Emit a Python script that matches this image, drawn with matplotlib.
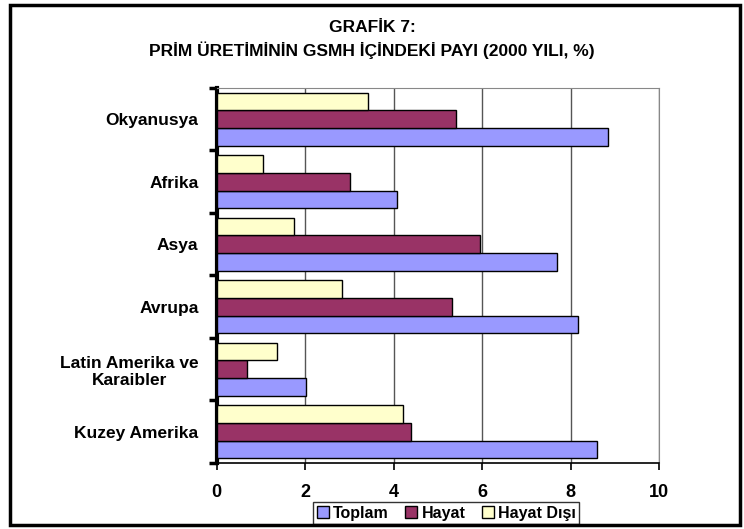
import numpy as np
import matplotlib.pyplot as plt
from matplotlib.patches import Rectangle

plt.rcParams['font.family'] = ['Liberation Sans', 'DejaVu Sans']
plt.rcParams['font.weight'] = 'bold'

# Data, bottom to top
regions = ['Kuzey Amerika', 'Latin Amerika ve\nKaraibler', 'Avrupa', 'Asya', 'Afrika', 'Okyanusya']
toplam = [8.59, 2.03, 8.16, 7.70, 4.07, 8.85]
hayat = [4.39, 0.68, 5.33, 5.95, 3.01, 5.41]
hayat_disi = [4.21, 1.36, 2.83, 1.75, 1.05, 3.43]
x_ticks = [0, 2, 4, 6, 8, 10]

fig = plt.figure(figsize=(7.44, 5.29), dpi=100)
ax = fig.add_axes([0.291, 0.1248, 0.595, 0.709])

y = np.arange(len(regions))
h = 0.283
ax.barh(y - h, toplam, height=h, color='#9999FF', edgecolor='black', linewidth=1, label='Toplam', zorder=3)
ax.barh(y, hayat, height=h, color='#993366', edgecolor='black', linewidth=1, label='Hayat', zorder=3)
ax.barh(y + h, hayat_disi, height=h, color='#FFFFCC', edgecolor='black', linewidth=1, label='Hayat Dışı', zorder=3)

ax.set_xlim(0, 10)
ax.set_ylim(-0.5, len(regions) - 0.5)
ax.set_xticks(x_ticks)
ax.set_xticklabels([str(v) for v in x_ticks], fontsize=13, fontweight='bold')
ax.tick_params(axis='x', direction='out', length=5, width=1.2, pad=10)
ax.grid(axis='x', color='#555555', linewidth=1, zorder=0)

# category boundaries as major ticks, labels on minor ticks
ax.set_yticks(np.arange(-0.5, len(regions), 1.0))
ax.set_yticklabels([])
ax.set_yticks(y, minor=True)
ax.set_yticklabels(regions, minor=True, fontsize=12.5, fontweight='bold', ha='right')
for lbl in ax.get_yticklabels(minor=True):
    lbl.set_multialignment('center')
ax.tick_params(axis='y', which='major', direction='out', length=6, width=2.5)
ax.tick_params(axis='y', which='minor', length=0, pad=13)

ax.spines['left'].set_linewidth(3)
ax.spines['bottom'].set_linewidth(1.2)
ax.spines['top'].set_color('#888888')
ax.spines['right'].set_color('#888888')

fig.text(0.5, 0.948, 'GRAFİK 7:', ha='center', va='center', fontsize=12.5, fontweight='bold')
fig.text(0.5, 0.905, 'PRİM ÜRETİMİNİN GSMH İÇİNDEKİ PAYI (2000 YILI, %)', ha='center', va='center',
         fontsize=12.5, fontweight='bold')

leg = ax.legend(loc='center', bbox_to_anchor=(0.600, 0.030), bbox_transform=fig.transFigure,
                ncol=3, frameon=True, fancybox=False, fontsize=11.5, handlelength=0.75, handleheight=0.75,
                handletextpad=0.3, columnspacing=1.0, borderpad=0.2, borderaxespad=0)
leg.get_frame().set_edgecolor('black')
leg.get_frame().set_linewidth(1)
for t in leg.get_texts():
    t.set_fontweight('bold')

fig.patches.append(Rectangle((0.013, 0.008), 0.982, 0.982, transform=fig.transFigure,
                             fill=False, edgecolor='black', linewidth=2.5))

fig.savefig('out.png', dpi=100)
